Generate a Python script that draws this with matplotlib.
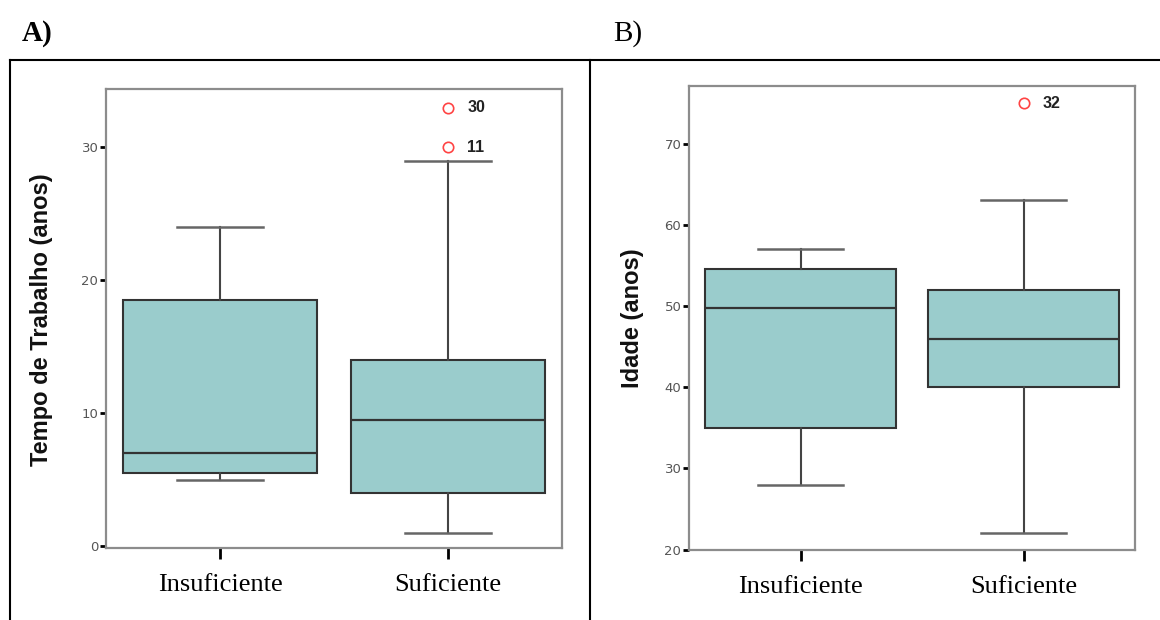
import matplotlib
matplotlib.use('Agg')
import matplotlib.pyplot as plt
from matplotlib.lines import Line2D

# dados
categorias = ['Insuficiente', 'Suficiente']

tempo_q1 = [5.5, 4.0]
tempo_med = [7.0, 9.5]
tempo_q3 = [18.5, 14.0]
tempo_min = [5.0, 1.0]
tempo_max = [24.0, 29.0]
tempo_outliers = [[], [30.0, 33.0]]
tempo_outlier_ids = [[], ['11', '30']]

idade_q1 = [35.0, 40.0]
idade_med = [49.7, 46.0]
idade_q3 = [54.6, 52.0]
idade_min = [28.0, 22.0]
idade_max = [57.0, 63.0]
idade_outliers = [[], [75.0]]
idade_outlier_ids = [[], ['32']]

COR_CAIXA = '#9ACCCC'
W, H = 1160, 620

fig = plt.figure(figsize=(W / 100, H / 100), dpi=100)
fig.patch.set_facecolor('white')


def px(x0, y0, x1, y1):
    # retângulo em pixels -> [left, bottom, width, height] em fração da figura
    return [x0 / W, 1 - y1 / H, (x1 - x0) / W, (y1 - y0) / H]


def boxplot_painel(ax, q1, med, q3, lo, hi, outs, ids, ylim, yticks, ylabel, label_xy):
    stats = []
    for i in range(len(categorias)):
        stats.append(dict(med=med[i], q1=q1[i], q3=q3[i],
                          whislo=lo[i], whishi=hi[i], fliers=outs[i]))
    pos = list(range(1, len(categorias) + 1))
    ax.bxp(stats, positions=pos, widths=0.855, capwidths=0.38,
           patch_artist=True, showfliers=True,
           boxprops=dict(facecolor=COR_CAIXA, edgecolor='#333333', linewidth=1.5),
           medianprops=dict(color='#333333', linewidth=1.6),
           whiskerprops=dict(color='#444444', linewidth=1.5),
           capprops=dict(color='#666666', linewidth=1.8),
           flierprops=dict(marker='o', markerfacecolor='none',
                           markeredgecolor='#FF4444', markersize=7.5,
                           markeredgewidth=1.2, linestyle='none'))
    for i in range(len(categorias)):
        for v, t in zip(outs[i], ids[i]):
            ax.annotate(t, xy=(pos[i], v), xytext=(14, 0),
                        textcoords='offset points', ha='left', va='center',
                        fontsize=11.5, fontweight='bold', color='#222222',
                        family='Liberation Sans')

    ax.set_xlim(0.5, 2.5)
    ax.set_ylim(*ylim)
    ax.set_yticks(yticks)
    ax.set_xticks(pos)
    ax.set_xticklabels(categorias, family='Liberation Serif', fontsize=19)
    ax.tick_params(axis='x', direction='out', length=8, width=2,
                   color='black', pad=11)
    ax.tick_params(axis='y', direction='out', length=4.5, width=2,
                   color='black', pad=1, labelsize=9.5, labelcolor='#555555')
    for s in ax.spines.values():
        s.set_color('#8c8c8c')
        s.set_linewidth(1.6)
    fig.text(label_xy[0] / W, 1 - label_xy[1] / H, ylabel, rotation=90,
             ha='center', va='center', fontsize=17, fontweight='bold',
             family='Liberation Sans', color='#111111')


axA = fig.add_axes(px(106, 89, 562, 548))
boxplot_painel(axA, tempo_q1, tempo_med, tempo_q3, tempo_min, tempo_max,
               tempo_outliers, tempo_outlier_ids, (-0.15, 34.4),
               [0, 10, 20, 30], 'Tempo de Trabalho (anos)', (42, 320))

axB = fig.add_axes(px(689, 86, 1135, 550))
boxplot_painel(axB, idade_q1, idade_med, idade_q3, idade_min, idade_max,
               idade_outliers, idade_outlier_ids, (19.95, 77.1),
               [20, 30, 40, 50, 60, 70], 'Idade (anos)', (632, 318))

# molduras dos painéis
yt = 1 - 60 / H
for xs, ys in [([10 / W, 10 / W], [0, yt]),
               ([10 / W, 1], [yt, yt]),
               ([590 / W, 590 / W], [0, yt])]:
    fig.add_artist(Line2D(xs, ys, transform=fig.transFigure,
                          color='black', linewidth=1.5))

# letras dos painéis
fig.text(22 / W, 1 - 41 / H, 'A)', family='Liberation Serif', fontsize=21,
         fontweight='bold', va='baseline', ha='left')
fig.text(613 / W, 1 - 41 / H, 'B)', family='Liberation Serif', fontsize=21,
         va='baseline', ha='left')

fig.savefig('out.png', dpi=100, facecolor='white')
